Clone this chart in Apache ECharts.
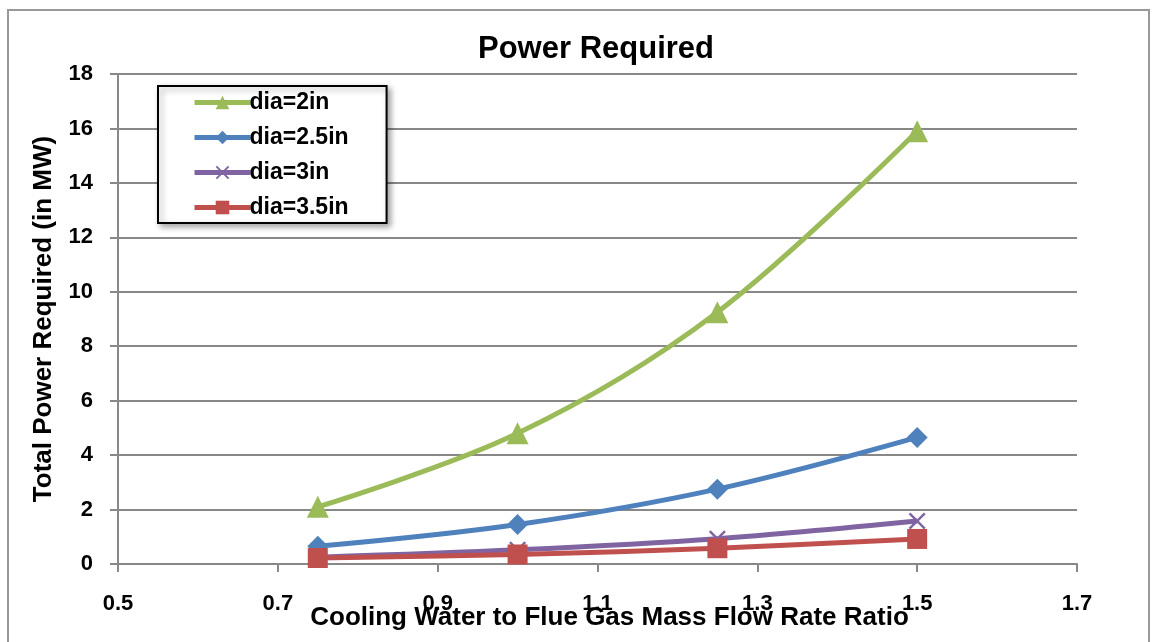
<!DOCTYPE html>
<html>
<head>
<meta charset="utf-8">
<script src="https://cdn.jsdelivr.net/npm/echarts@6/dist/echarts.min.js"></script>
<style>
  html, body { margin: 0; padding: 0; background: #fff; }
  #chart { width: 1157px; height: 642px; }
</style>
</head>
<body>
<div id="chart"></div>
<script>
// flow rate ratio on x, power in MW on y
var ratios = [0.75, 1.0, 1.25, 1.5];
var dia2 = [2.1, 4.8, 9.25, 15.9];
var dia25 = [0.65, 1.45, 2.75, 4.65];
var dia3 = [0.25, 0.52, 0.93, 1.58];
var dia35 = [0.22, 0.35, 0.58, 0.92];
var seriesNames = ['dia=2in', 'dia=2.5in', 'dia=3in', 'dia=3.5in'];

function pairs(ys) {
  var res = [];
  for (var i = 0; i < ratios.length; i++) res.push([ratios[i], ys[i]]);
  return res;
}

var crossPath = 'path://M0,1 L1,0 L5,4 L9,0 L10,1 L6,5 L10,9 L9,10 L5,6 L1,10 L0,9 L4,5 Z';
var font = 'Liberation Sans, Arial, sans-serif';

function mkSeries(name, ys, color, symbol, size) {
  return {
    name: name,
    type: 'line',
    smooth: 0.35,
    data: pairs(ys),
    symbol: symbol,
    symbolSize: size,
    showAllSymbol: true,
    lineStyle: { color: color, width: 5 },
    itemStyle: { color: color },
    emphasis: { disabled: true }
  };
}

var myChart = echarts.init(document.getElementById('chart'));
var option = {
  animation: false,
  title: {
    text: 'Power Required',
    left: 591,
    textAlign: 'center',
    top: 29,
    textStyle: { fontFamily: font, fontSize: 31, fontWeight: 'bold', color: '#000' }
  },
  graphic: [{
    type: 'rect',
    shape: { x: 8, y: 10, width: 1141, height: 640 },
    style: { fill: 'none', stroke: '#999', lineWidth: 2 },
    z: -1
  }],
  legend: {
    orient: 'vertical',
    left: 158,
    top: 86,
    padding: [5, 38, 4, 34],
    itemWidth: 56,
    itemHeight: 17,
    itemGap: 12,
    backgroundColor: '#fff',
    borderColor: '#000',
    borderWidth: 2,
    shadowColor: 'rgba(0,0,0,0.35)',
    shadowBlur: 6,
    shadowOffsetX: 3,
    shadowOffsetY: 3,
    lineStyle: { width: 5 },
    data: seriesNames,
    textStyle: { fontFamily: font, fontSize: 23, fontWeight: 'bold', color: '#000', padding: [0, 0, 0, -6] }
  },
  grid: { left: 118, right: 80, top: 74, bottom: 78, outerBoundsMode: 'none', containLabel: false },
  xAxis: {
    type: 'value',
    min: 0.5,
    max: 1.7,
    interval: 0.2,
    name: 'Cooling Water to Flue Gas Mass Flow Rate Ratio',
    nameLocation: 'middle',
    nameGap: 41,
    nameMoveOverlap: false,
    nameTextStyle: { fontFamily: font, fontSize: 26, fontWeight: 'bold', color: '#000', padding: [0, 0, 0, 24] },
    axisLine: { lineStyle: { color: '#888', width: 2 } },
    axisTick: { show: true, length: 8, lineStyle: { color: '#888', width: 2 } },
    axisLabel: {
      margin: 29,
      fontFamily: font, fontSize: 22, fontWeight: 'bold', color: '#000',
      formatter: function (v) { return v.toFixed(1); }
    },
    splitLine: { show: false }
  },
  yAxis: {
    type: 'value',
    min: 0,
    max: 18,
    interval: 2,
    name: 'Total Power Required (in MW)',
    nameLocation: 'middle',
    nameGap: 61,
    nameMoveOverlap: false,
    nameTextStyle: { fontFamily: font, fontSize: 26, fontWeight: 'bold', color: '#000' },
    axisLine: { show: true, lineStyle: { color: '#888', width: 2 } },
    axisTick: { show: true, length: 8, lineStyle: { color: '#888', width: 2 } },
    axisLabel: { margin: 25, fontFamily: font, fontSize: 22, fontWeight: 'bold', color: '#000' },
    splitLine: { lineStyle: { color: '#888', width: 2 } }
  },
  series: [
    mkSeries('dia=2in', dia2, '#9BBB59', 'triangle', 22),
    mkSeries('dia=2.5in', dia25, '#4F81BD', 'diamond', 21),
    mkSeries('dia=3in', dia3, '#8064A2', crossPath, 17),
    mkSeries('dia=3.5in', dia35, '#C0504D', 'rect', 20)
  ]
};
myChart.setOption(option);
</script>
</body>
</html>
